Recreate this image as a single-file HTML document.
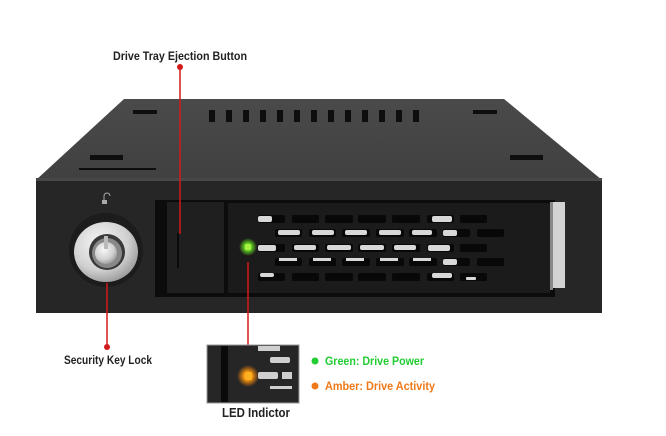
<!DOCTYPE html>
<html><head><meta charset="utf-8"><style>
html,body{margin:0;padding:0;background:#fff;}
svg{display:block;}
text{font-family:"Liberation Sans",sans-serif;font-weight:bold;}
</style></head><body>
<svg width="666" height="436" viewBox="0 0 666 436" xmlns="http://www.w3.org/2000/svg">
<defs>
<linearGradient id="top" x1="0" y1="0" x2="0" y2="1"><stop offset="0" stop-color="#4a4a4a"/><stop offset="1" stop-color="#404040"/></linearGradient>
<radialGradient id="silver" cx="0.4" cy="0.35" r="0.75"><stop offset="0" stop-color="#f8f8f8"/><stop offset="0.6" stop-color="#d0d0d0"/><stop offset="1" stop-color="#8a8a8a"/></radialGradient>
<radialGradient id="gled"><stop offset="0" stop-color="#c8ff60"/><stop offset="0.35" stop-color="#66dd22"/><stop offset="1" stop-color="#66dd22" stop-opacity="0"/></radialGradient>
<radialGradient id="oled"><stop offset="0" stop-color="#ffe060"/><stop offset="0.35" stop-color="#ff9a10"/><stop offset="1" stop-color="#ff8a00" stop-opacity="0"/></radialGradient>
</defs>

<!-- top face -->
<polygon points="124,99 504,99 602,180 36,180" fill="url(#top)"/>
<g fill="#0e0e0e">
<rect x="209" y="110" width="6" height="12"/><rect x="226" y="110" width="6" height="12"/><rect x="243" y="110" width="6" height="12"/><rect x="260" y="110" width="6" height="12"/><rect x="277" y="110" width="6" height="12"/><rect x="294" y="110" width="6" height="12"/><rect x="311" y="110" width="6" height="12"/><rect x="328" y="110" width="6" height="12"/><rect x="345" y="110" width="6" height="12"/><rect x="362" y="110" width="6" height="12"/><rect x="379" y="110" width="6" height="12"/><rect x="396" y="110" width="6" height="12"/><rect x="413" y="110" width="6" height="12"/>
<rect x="133" y="110" width="24" height="4"/><rect x="473" y="110" width="24" height="4"/>
<rect x="90" y="155" width="33" height="5"/><rect x="510" y="155" width="33" height="5"/>
<rect x="79" y="168" width="77" height="2"/>
</g>
<rect x="36" y="178" width="566" height="4" fill="#484848"/>

<!-- front face -->
<rect x="36" y="181" width="566" height="132" fill="#262626"/>
<!-- tray recess -->
<rect x="155" y="200" width="400" height="97" fill="#0c0c0c"/>
<rect x="167" y="202" width="57" height="91" fill="#1f1f1f"/>
<rect x="177" y="233" width="2" height="35" fill="#0a0a0a"/>
<rect x="228" y="203" width="322" height="90" fill="#1b1b1b"/>
<rect x="552" y="202" width="13" height="86" fill="#d2d2d2"/>
<rect x="550" y="202" width="3" height="88" fill="#888"/>

<!-- slot grid -->
<g fill="#080808">
<rect x="258" y="215" width="27" height="8" rx="2"/><rect x="292" y="215" width="27" height="8" rx="2"/><rect x="325" y="215" width="28" height="8" rx="2"/><rect x="358" y="215" width="28" height="8" rx="2"/><rect x="392" y="215" width="28" height="8" rx="2"/><rect x="427" y="215" width="27" height="8" rx="2"/><rect x="460" y="215" width="27" height="8" rx="2"/>
<rect x="275" y="229" width="27" height="8" rx="2"/><rect x="309" y="229" width="27" height="8" rx="2"/><rect x="342" y="229" width="28" height="8" rx="2"/><rect x="376" y="229" width="28" height="8" rx="2"/><rect x="409" y="229" width="28" height="8" rx="2"/><rect x="443" y="229" width="27" height="8" rx="2"/><rect x="477" y="229" width="27" height="8" rx="2"/>
<rect x="258" y="244" width="27" height="8" rx="2"/><rect x="292" y="244" width="27" height="8" rx="2"/><rect x="325" y="244" width="28" height="8" rx="2"/><rect x="358" y="244" width="28" height="8" rx="2"/><rect x="392" y="244" width="28" height="8" rx="2"/><rect x="427" y="244" width="27" height="8" rx="2"/><rect x="460" y="244" width="27" height="8" rx="2"/>
<rect x="275" y="258" width="27" height="8" rx="2"/><rect x="309" y="258" width="27" height="8" rx="2"/><rect x="342" y="258" width="28" height="8" rx="2"/><rect x="376" y="258" width="28" height="8" rx="2"/><rect x="409" y="258" width="28" height="8" rx="2"/><rect x="443" y="258" width="27" height="8" rx="2"/><rect x="477" y="258" width="27" height="8" rx="2"/>
<rect x="258" y="273" width="27" height="8" rx="2"/><rect x="292" y="273" width="27" height="8" rx="2"/><rect x="325" y="273" width="28" height="8" rx="2"/><rect x="358" y="273" width="28" height="8" rx="2"/><rect x="392" y="273" width="28" height="8" rx="2"/><rect x="427" y="273" width="27" height="8" rx="2"/><rect x="460" y="273" width="27" height="8" rx="2"/>
</g>
<g fill="#d8d8d8">
<rect x="258" y="216" width="14" height="6" rx="2"/><rect x="432" y="216" width="20" height="6" rx="2"/>
<rect x="278" y="230" width="22" height="5" rx="2"/><rect x="312" y="230" width="22" height="5" rx="2"/><rect x="345" y="230" width="22" height="5" rx="2"/><rect x="379" y="230" width="22" height="5" rx="2"/><rect x="412" y="230" width="20" height="5" rx="2"/><rect x="443" y="230" width="14" height="6" rx="2"/>
<rect x="258" y="245" width="18" height="6" rx="2"/><rect x="294" y="245" width="22" height="5" rx="2"/><rect x="327" y="245" width="24" height="5" rx="2"/><rect x="360" y="245" width="24" height="5" rx="2"/><rect x="394" y="245" width="22" height="5" rx="2"/><rect x="428" y="245" width="22" height="6" rx="2"/>
<rect x="279" y="258" width="18" height="3"/><rect x="313" y="258" width="18" height="3"/><rect x="346" y="258" width="18" height="3"/><rect x="380" y="258" width="18" height="3"/><rect x="413" y="258" width="18" height="3"/><rect x="443" y="259" width="14" height="6" rx="2"/>
<rect x="260" y="273" width="14" height="4" rx="2"/><rect x="432" y="273" width="20" height="5" rx="2"/><rect x="466" y="277" width="10" height="3" rx="1"/>
</g>
<circle cx="248" cy="247" r="9" fill="url(#gled)"/>
<rect x="245" y="244" width="6" height="6" rx="1" fill="#a8f040"/>

<!-- lock -->
<circle cx="106" cy="250" r="37" fill="#1c1c1c"/>
<ellipse cx="106" cy="252" rx="32" ry="30" fill="url(#silver)"/>
<circle cx="107" cy="252" r="18" fill="#3a3a3a"/>
<circle cx="107" cy="253" r="15" fill="#888"/>
<circle cx="106" cy="253" r="11" fill="url(#silver)"/>
<rect x="104" y="236" width="4" height="13" fill="#bbb"/>
<rect x="102" y="200" width="5" height="4" fill="#aaa"/>
<path d="M104,200 v-4 a3,3 0 0 1 6,0" stroke="#aaa" stroke-width="1" fill="none"/>

<!-- callout lines -->
<g stroke="#d21a1a" stroke-width="1.5">
<line x1="180" y1="67" x2="180" y2="234"/>
<line x1="107" y1="283" x2="107" y2="347"/>
<line x1="248" y1="262" x2="248" y2="346"/>
</g>
<circle cx="180" cy="67" r="3" fill="#d21a1a"/>
<circle cx="107" cy="347" r="3" fill="#d21a1a"/>

<!-- LED inset -->
<rect x="207" y="345" width="92" height="58" fill="#262626" stroke="#999" stroke-width="1"/>
<rect x="221" y="346" width="7" height="56" fill="#0a0a0a"/>
<g fill="#cfcfcf">
<rect x="258" y="346" width="22" height="5"/><rect x="270" y="357" width="20" height="6" rx="2"/>
<rect x="258" y="372" width="20" height="7" rx="2"/><rect x="282" y="372" width="10" height="7"/>
<rect x="270" y="386" width="22" height="3"/>
</g>
<circle cx="248" cy="376" r="11" fill="url(#oled)"/>
<rect x="245" y="372" width="7" height="8" rx="1" fill="#ffb020"/>

<!-- labels -->
<text x="113" y="60" font-size="12" fill="#222" textLength="134" lengthAdjust="spacingAndGlyphs">Drive Tray Ejection Button</text>
<text x="64" y="364" font-size="12" fill="#222" textLength="88" lengthAdjust="spacingAndGlyphs">Security Key Lock</text>
<text x="222" y="417" font-size="13" fill="#222" textLength="68" lengthAdjust="spacingAndGlyphs">LED Indictor</text>
<circle cx="315" cy="361" r="3.5" fill="#22cc33"/>
<text x="325" y="365" font-size="12" fill="#22cc33" textLength="99" lengthAdjust="spacingAndGlyphs">Green: Drive Power</text>
<circle cx="315" cy="386" r="3.5" fill="#f07a1a"/>
<text x="325" y="390" font-size="12" fill="#f07a1a" textLength="110" lengthAdjust="spacingAndGlyphs">Amber: Drive Activity</text>
</svg>
</body></html>
